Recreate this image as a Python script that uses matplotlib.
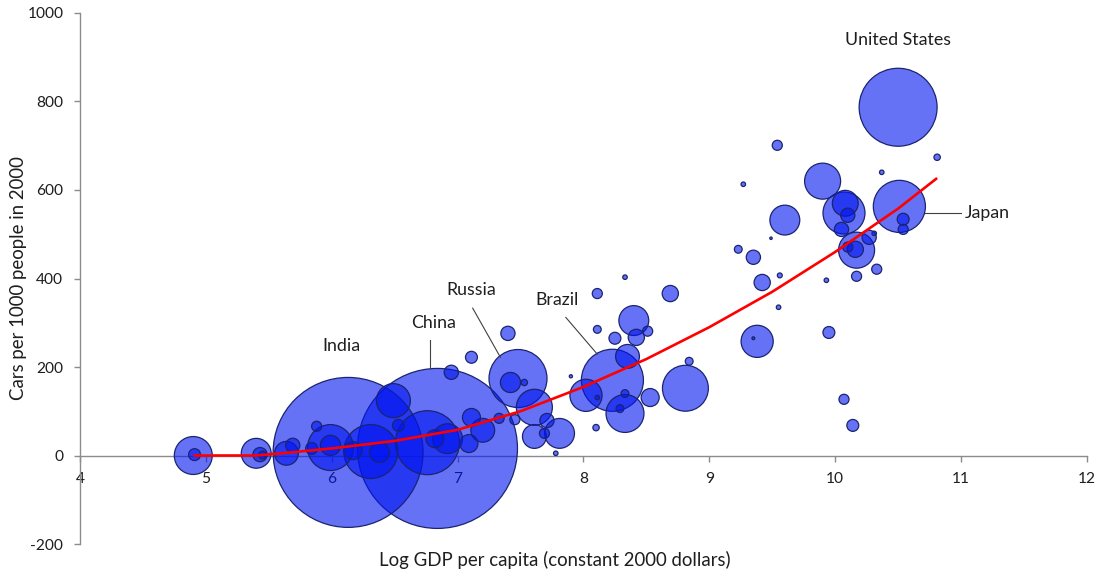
"""Bubble chart: car ownership against log GDP per capita, sized by population."""

import matplotlib

matplotlib.use("Agg")
import matplotlib.pyplot as plt
import numpy as np

# log GDP per capita, cars per 1000 people, population (millions)
log_gdp = [
    4.90, 4.91, 5.40, 5.43, 5.45, 5.64, 5.69, 5.84, 5.88, 5.99,
    5.99, 6.13, 6.17, 6.31, 6.38, 6.49, 6.53, 6.84, 6.76, 6.82,
    6.92, 6.95, 7.11, 7.11, 7.20, 7.09, 7.33, 7.40, 7.48, 7.42,
    7.53, 7.61, 7.455, 7.71, 7.69, 7.61, 7.81, 7.78, 8.23, 8.02,
    8.35, 8.33, 8.33, 8.29, 8.11, 8.53, 8.10, 7.90, 8.11, 8.11,
    8.25, 8.40, 8.42, 8.51, 8.33, 8.69, 8.81, 8.84, 10.50, 10.81,
    9.54, 10.37, 9.27, 9.90, 10.07, 10.08, 10.10, 10.05, 10.51, 10.54,
    10.54, 9.60, 9.49, 9.23, 9.35, 9.42, 9.56, 9.55, 9.93, 10.17,
    10.16, 10.10, 10.27, 10.31, 10.17, 10.33, 9.38, 9.35, 9.95, 10.07,
    10.14,
]
cars = [
    0, 2, 5, 2, 1, 5, 23, 16, 66, 18,
    23, 7, 11, 9, 7, 124, 68, 16, 29, 38,
    38, 188, 222, 86, 57, 27, 84, 276, 174, 165,
    165, 109, 81, 79, 50, 43, 50, 5, 170, 136,
    224, 140, 95, 106, 131, 131, 63, 179, 366, 285,
    265, 305, 267, 281, 403, 366, 152, 213, 787, 674,
    701, 640, 613, 620, 548, 570, 543, 511, 563, 534,
    511, 532, 491, 466, 448, 391, 407, 335, 396, 464,
    466, 471, 493, 502, 405, 421, 258, 265, 278, 127,
    68,
]
population = [
    71, 7, 44, 10, 3, 28, 10, 7, 5, 104,
    20, 1110, 16, 144, 20, 57, 7, 1264, 202, 16,
    44, 10, 7, 16, 28, 16, 5, 10, 166, 20,
    2, 64, 5, 10, 5, 28, 44, 1, 190, 51,
    28, 3, 71, 3, 1, 16, 2, 0.5, 5, 3,
    7, 44, 13, 5, 1, 13, 104, 3, 300, 2,
    5, 1, 1, 64, 87, 33, 10, 10, 134, 7,
    5, 44, 0.3, 3, 10, 13, 1.2, 1, 1, 64,
    13, 5, 10, 1, 5, 5, 51, 0.4, 7, 5,
    7,
]

# fitted trend
trend_x = [4.90, 5.40, 5.60, 6.00, 6.50, 7.00, 7.50, 8.00, 8.50, 9.00, 9.50, 10.00, 10.50, 10.81]
trend_y = [0, 0, 5, 16, 33, 58, 100, 155, 218, 290, 370, 460, 558, 627]

# country labels: (text, text position, leader line start, leader line end)
labels = [
    ("United States", (10.50, 939), None, None),
    ("India", (6.08, 247), None, None),
    ("China", (6.81, 299), (6.78, 260), (6.78, 197)),
    ("Russia", (7.11, 373), (7.12, 333), (7.34, 222)),
    ("Brazil", (7.79, 351), (7.86, 312), (8.11, 229)),
]
japan_label = ("Japan", (11.03, 548), (10.71, 548), (11.00, 548))

plt.rcParams["font.family"] = ["Lato", "DejaVu Sans"]
plt.rcParams["axes.unicode_minus"] = False
TEXT = "#1e1e1e"
AXIS = "#8c8c8c"

fig = plt.figure(figsize=(10.99, 5.75), dpi=100)
ax = fig.add_axes([0.0728, 0.0539, 0.9162, 0.9235])

x = np.array(log_gdp)
y = np.array(cars)
pop = np.array(population)
order = np.argsort(-pop)
sizes = pop * 10.5
ax.scatter(
    x[order], y[order], s=sizes[order],
    facecolor=(0.0, 0.08, 0.94, 0.6), edgecolor="#1b2470", linewidth=0.9,
    zorder=3,
)

ax.plot(trend_x, trend_y, color="#ff0000", linewidth=1.9, zorder=4,
        solid_capstyle="butt")

for text, pos, start, end in labels:
    ax.text(pos[0], pos[1], text, ha="center", va="center", fontsize=12.8,
            color=TEXT, zorder=5)
    if start is not None:
        ax.plot([start[0], end[0]], [start[1], end[1]], color="#404040",
                linewidth=0.8, zorder=5)

text, pos, start, end = japan_label
ax.text(pos[0], pos[1], text, ha="left", va="center", fontsize=12.8,
        color=TEXT, zorder=5)
ax.plot([start[0], end[0]], [start[1], end[1]], color="#404040",
        linewidth=0.8, zorder=5)

ax.set_xlim(4, 12)
ax.set_ylim(-200, 1000)
ax.set_xticks(range(4, 13))
ax.set_yticks(range(-200, 1001, 200))

ax.spines["top"].set_visible(False)
ax.spines["right"].set_visible(False)
ax.spines["bottom"].set_position(("data", 0))
for side in ("left", "bottom"):
    ax.spines[side].set_color(AXIS)
    ax.spines[side].set_linewidth(1.0)
ax.tick_params(axis="both", colors=AXIS, labelcolor=TEXT, labelsize=11.2,
               length=4, width=1.0, direction="out")
ax.tick_params(axis="x", pad=8)
ax.tick_params(axis="y", pad=8)

fig.text(0.505, 0.026, "Log GDP per capita (constant 2000 dollars)",
         ha="center", va="center", fontsize=13.4, color=TEXT)
fig.text(0.017, 0.516, "Cars per 1000 people in 2000", rotation=90,
         ha="center", va="center", fontsize=13.4, color=TEXT)

fig.savefig("out.png", dpi=100)
